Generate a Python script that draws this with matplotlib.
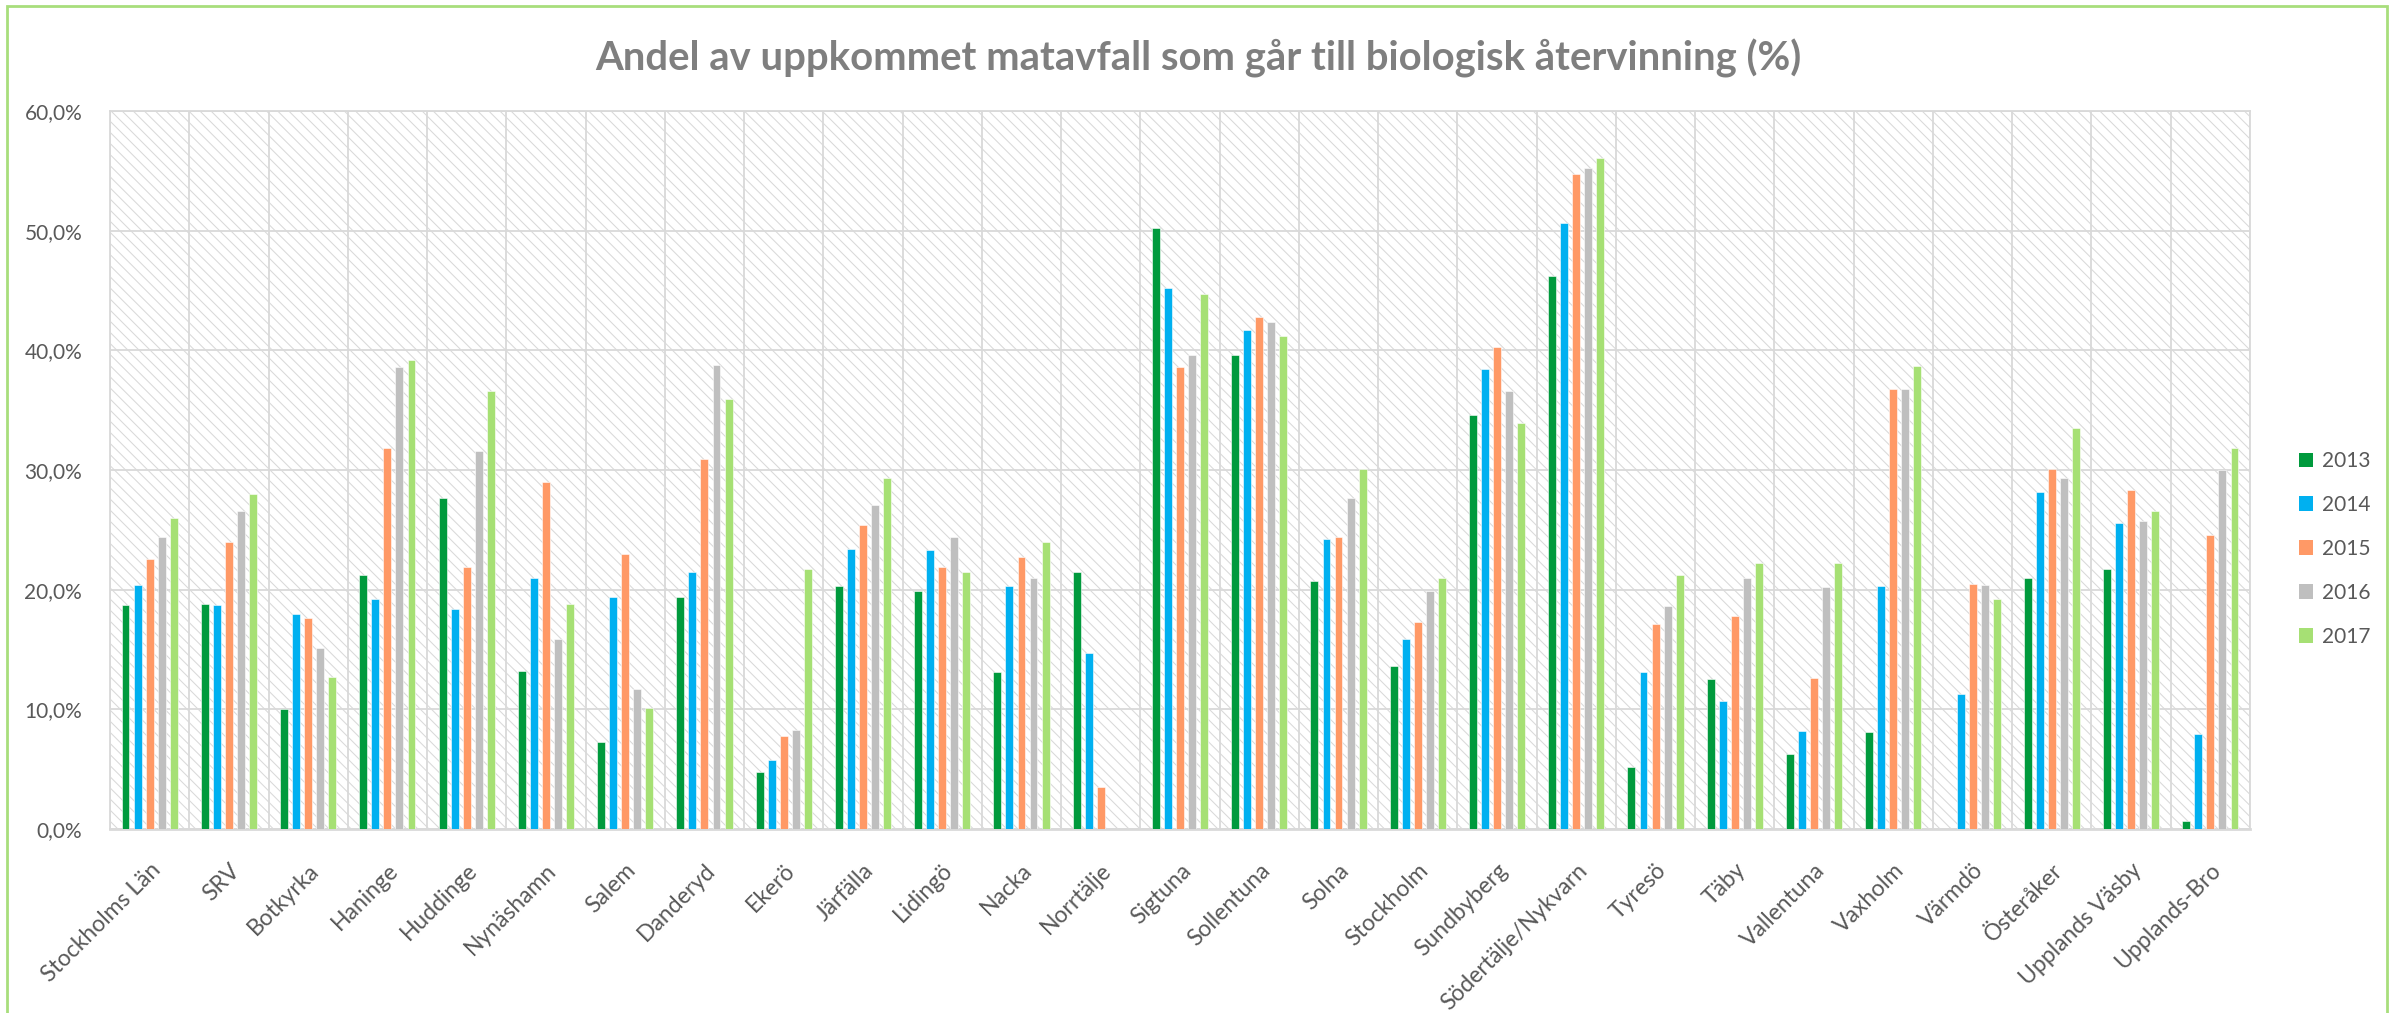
import numpy as np
import matplotlib
matplotlib.use("Agg")
import matplotlib.pyplot as plt
from matplotlib.patches import Rectangle, Patch
from matplotlib.ticker import FuncFormatter, FixedLocator

plt.rcParams['font.family'] = ['Lato', 'DejaVu Sans']
plt.rcParams['hatch.linewidth'] = 0.75

title = "Andel av uppkommet matavfall som går till biologisk återvinning (%)"
categories = ["Stockholms Län", "SRV", "Botkyrka", "Haninge", "Huddinge", "Nynäshamn",
              "Salem", "Danderyd", "Ekerö", "Järfälla", "Lidingö", "Nacka", "Norrtälje",
              "Sigtuna", "Sollentuna", "Solna", "Stockholm", "Sundbyberg",
              "Södertälje/Nykvarn", "Tyresö", "Täby", "Vallentuna", "Vaxholm", "Värmdö",
              "Österåker", "Upplands Väsby", "Upplands-Bro"]
years = ["2013", "2014", "2015", "2016", "2017"]

v2013 = [18.7, 18.8, 10.0, 21.2, 27.7, 13.2, 7.3, 19.4, 4.8, 20.3, 19.9, 13.1, 21.5,
         50.2, 39.6, 20.7, 13.6, 34.6, 46.2, 5.2, 12.5, 6.3, 8.1, np.nan, 21.0, 21.7, 0.7]
v2014 = [20.4, 18.7, 18.0, 19.2, 18.4, 21.0, 19.4, 21.5, 5.8, 23.4, 23.3, 20.3, 14.7,
         45.2, 41.7, 24.2, 15.9, 38.4, 50.6, 13.1, 10.7, 8.2, 20.3, 11.3, 28.2, 25.6, 7.9]
v2015 = [22.6, 24.0, 17.6, 31.8, 21.9, 29.0, 23.0, 30.9, 7.8, 25.4, 21.9, 22.7, 3.5,
         38.6, 42.8, 24.4, 17.3, 40.3, 54.7, 17.1, 17.8, 12.6, 36.8, 20.5, 30.1, 28.3, 24.6]
v2016 = [24.4, 26.6, 15.1, 38.6, 31.6, 15.9, 11.7, 38.8, 8.3, 27.1, 24.4, 21.0, np.nan,
         39.6, 42.4, 27.7, 19.9, 36.6, 55.2, 18.6, 21.0, 20.2, 36.8, 20.4, 29.3, 25.7, 30.0]
v2017 = [26.0, 28.0, 12.7, 39.2, 36.6, 18.8, 10.1, 35.9, 21.7, 29.3, 21.5, 24.0, np.nan,
         44.7, 41.2, 30.1, 21.0, 33.9, 56.1, 21.2, 22.2, 22.2, 38.7, 19.2, 33.5, 26.6, 31.8]
series = [v2013, v2014, v2015, v2016, v2017]
colors = ["#009A3D", "#00B0F0", "#FF9966", "#BFBFBF", "#A6E074"]

W, H = 2397, 1013
fig = plt.figure(figsize=(W / 100, H / 100), dpi=100)
fig.patch.set_facecolor("white")

L, R, T, B = 110, 2250, 111, 829
ax = fig.add_axes([L / W, 1 - B / H, (R - L) / W, (B - T) / H])
ax.set_axisbelow(True)
ax.patch.set_facecolor("white")
bg = Rectangle((0, 0), 1, 1, transform=ax.transAxes, facecolor="white",
               edgecolor="#d9d9d9", hatch="\\\\\\", lw=0, zorder=0)
ax.add_patch(bg)

n = len(categories)
x = np.arange(n)
step = 0.152
bw = 0.10
for i, (vals, c) in enumerate(zip(series, colors)):
    ax.bar(x + (i - 2) * step, vals, width=bw, color=c, edgecolor="white",
           linewidth=0.4, zorder=3, label=years[i])

ax.set_xlim(-0.5, n - 0.5)
ax.set_ylim(0, 60)
ax.set_yticks(np.arange(0, 61, 10))
ax.yaxis.set_major_formatter(FuncFormatter(lambda v, p: f"{v:.1f}%".replace(".", ",")))
ax.set_xticks(x)
ax.set_xticklabels(categories, rotation=45, ha="right", va="top", rotation_mode="anchor",
                   fontsize=16.5)
ax.xaxis.set_minor_locator(FixedLocator(np.arange(-0.5, n, 1)))
ax.grid(axis="y", which="major", color="#d9d9d9", lw=1.3, zorder=1)
ax.grid(axis="x", which="minor", color="#d9d9d9", lw=1.3, zorder=1)
ax.tick_params(axis="both", which="both", length=0, colors="#595959")
ax.tick_params(axis="y", labelsize=15, pad=20)
ax.tick_params(axis="x", which="major", pad=22)
for s in ax.spines.values():
    s.set_color("#d9d9d9")
    s.set_linewidth(1.3)
ax.spines["bottom"].set_linewidth(2)

fig.text(0.5, 1 - 58 / H, title, ha="center", va="center", fontsize=28.8,
         fontweight="bold", color="#7f7f7f")

handles = [Patch(facecolor=c, edgecolor="none") for c in colors]
fig.legend(handles, years, loc="center left", bbox_to_anchor=(2280 / W, 1 - 549 / H),
           frameon=False, fontsize=15, handlelength=0.7, handleheight=0.7,
           handletextpad=0.4, labelspacing=1.15, labelcolor="#595959")

fig.patches.append(Rectangle((7 / W, -0.02), (2387 - 7) / W, (H - 6) / H + 0.02,
                             transform=fig.transFigure, fill=False,
                             edgecolor="#A8DE7C", lw=2, zorder=10))

fig.savefig("out.png", dpi=100, facecolor="white")
